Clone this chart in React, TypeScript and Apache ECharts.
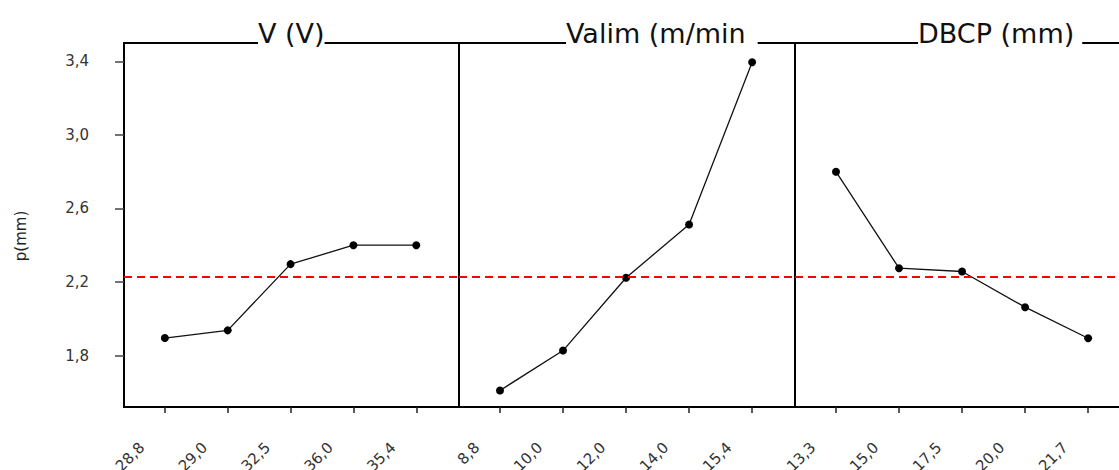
import React, { useEffect, useRef } from 'react';
import * as echarts from 'echarts';

const vLabels = ['28,8', '29,0', '32,5', '36,0', '35,4'];
const valimLabels = ['8,8', '10,0', '12,0', '14,0', '15,4'];
const dbcpLabels = ['13,3', '15,0', '17,5', '20,0', '21,7'];

const vValues = [1.895, 1.937, 2.297, 2.4, 2.4];
const valimValues = [1.61, 1.827, 2.223, 2.513, 3.395];
const dbcpValues = [2.8, 2.275, 2.257, 2.063, 1.894];

const meanLine = 2.226;
const yTicks = [1.8, 2.2, 2.6, 3.0, 3.4];
const panelTitles = ['V (V)', 'Valim (m/min', 'DBCP (mm)'];
const yName = 'p(mm)';

export default function App() {
  const ref = useRef<HTMLDivElement>(null);
  useEffect(() => {
    const chart = echarts.init(ref.current!, null, { renderer: 'svg' });
    const panels = [
      { left: 124, width: 335, labels: vLabels, values: vValues, titleX: 258, pad: 0 },
      { left: 459, width: 336, labels: valimLabels, values: valimValues, titleX: 566, pad: 12 },
      { left: 795, width: 336, labels: dbcpLabels, values: dbcpValues, titleX: 918, pad: 8 },
    ];
    const idx = [0, 1, 2, 3, 4];
    const shift = 0.365;
    const option: any = {
      animation: false,
      backgroundColor: '#fff',
      textStyle: { fontFamily: '"DejaVu Sans", sans-serif' },
      grid: panels.map((p) => ({
        left: p.left,
        width: p.width,
        top: 43,
        height: 364,
        outerBoundsMode: 'none',
        containLabel: false,
        show: true,
        borderColor: '#000',
        borderWidth: 2,
        backgroundColor: 'transparent',
      })),
      xAxis: panels.map((p, i) => ({
        type: 'value',
        gridIndex: i,
        min: -0.65,
        max: 4.68,
        position: 'bottom',
        axisLine: { show: false, onZero: false },
        splitLine: { show: false },
        axisTick: {
          show: true,
          customValues: idx,
          length: 6,
          lineStyle: { color: '#222', width: 1.5 },
        },
        axisLabel: {
          customValues: idx.map((k) => k - shift),
          formatter: (v: number) => p.labels[Math.round(v + shift)],
          rotate: 45,
          margin: 38,
          fontSize: 15,
          color: '#333',
          fontFamily: '"DejaVu Sans", sans-serif',
        },
      })),
      yAxis: panels.map((p, i) => ({
        type: 'value',
        gridIndex: i,
        min: 1.52,
        max: 3.5,
        position: 'left',
        axisLine: { show: false, onZero: false },
        splitLine: { show: false },
        axisTick: {
          show: i === 0,
          customValues: yTicks,
          length: 9,
          lineStyle: { color: '#444', width: 1.5 },
        },
        axisLabel: {
          show: i === 0,
          customValues: yTicks,
          formatter: (v: number) => v.toFixed(1).replace('.', ','),
          margin: 35,
          fontSize: 15,
          color: '#333',
          fontFamily: '"DejaVu Sans", sans-serif',
        },
      })),
      series: panels.map((p, i) => ({
        type: 'line',
        xAxisIndex: i,
        yAxisIndex: i,
        data: p.values.map((v, k) => [k, v]),
        symbol: 'circle',
        symbolSize: 8,
        itemStyle: { color: '#000' },
        lineStyle: { color: '#111', width: 1.3 },
        markLine: {
          silent: true,
          symbol: 'none',
          label: { show: false },
          lineStyle: { color: '#ff0000', type: [8, 5], width: 2 },
          data: [{ yAxis: meanLine }],
        },
      })),
      graphic: [
        ...panels.map((p, i) => ({
          type: 'text',
          x: p.titleX,
          y: 33,
          z: 100,
          style: {
            text: panelTitles[i],
            font: '27px "DejaVu Sans", sans-serif',
            fill: '#111',
            backgroundColor: '#fff',
            padding: [0, p.pad, 0, 0],
            align: 'left',
            verticalAlign: 'middle',
          },
        })),
        {
          type: 'text',
          x: 21,
          y: 236,
          rotation: Math.PI / 2,
          style: {
            text: yName,
            font: '15px "DejaVu Sans", sans-serif',
            fill: '#222',
            align: 'center',
            verticalAlign: 'middle',
          },
        },
      ],
    };
    chart.setOption(option);
    return () => chart.dispose();
  }, []);
  return (
    <div
      ref={ref}
      style={{ position: 'absolute', left: 0, top: 0, width: 1119, height: 470 }}
    />
  );
}
